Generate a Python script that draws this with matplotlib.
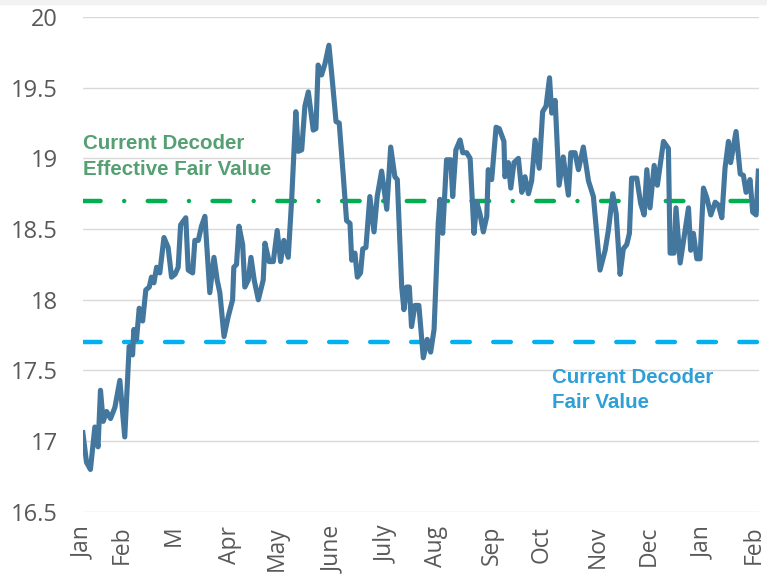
import matplotlib.pyplot as plt
import matplotlib.patches as mpatches

# trading-day position (approx) and price
days = [0, 1.5, 3.1, 4.9, 6.2, 7.2, 8.3, 9.7, 11.3, 13.1, 15.1, 17.1, 18.9, 20.3, 20.8,
        21.9, 23.0, 24.4, 25.7, 27.1, 28.0, 29.0, 30.1, 31.4, 33.1, 34.8, 36.2, 37.6,
        38.9, 39.9, 42.0, 43.0, 44.8, 45.7, 47.1, 48.4, 49.8, 51.8, 53.5, 54.8, 55.9,
        57.6, 59.3, 61.1, 61.6, 62.7, 63.7, 65.2, 66.1, 67.5, 68.6, 69.9, 71.6, 73.6,
        74.3, 76.0, 77.7, 79.3, 80.7, 82.0, 83.8, 85.2, 86.9, 87.9, 89.3, 90.6, 92.0,
        94.0, 95.1, 96.0, 97.4, 98.8, 100.4, 101.9, 103.3, 104.6, 106.2, 107.6, 109.0,
        109.7, 111.0, 112.0, 113.3, 114.2, 115.5, 117.1, 118.8, 120.1, 121.9, 124.0,
        125.6, 127.3, 128.3, 130.1, 131.0, 132.1, 133.2, 134.1, 135.5, 137.1, 138.9,
        140.5, 141.9, 143.3, 145.0, 145.7, 146.8, 148.4, 150.1, 150.9, 152.2, 153.9,
        155.0, 156.6, 158.0, 159.6, 160.7, 162.0, 163.4, 164.8, 165.4, 166.8, 168.6,
        169.9, 171.8, 172.2, 173.6, 174.6, 175.9, 177.7, 179.1, 180.4, 181.8, 183.1,
        184.5, 186.2, 187.6, 189.0, 190.4, 191.3, 192.7, 194.3, 196.0, 198.1, 199.1,
        200.8, 202.2, 204.2, 206.3, 208.3, 211.0, 213.1, 214.4, 216.2, 217.6, 219.2,
        220.5, 221.9, 223.0, 223.9, 226.0, 227.6, 229.0, 230.1, 231.4, 233.1, 234.4,
        236.9, 238.9, 239.6, 241.2, 242.0, 243.7, 245.7, 247.1, 248.0, 249.1, 250.5,
        251.8, 253.2, 254.6, 256.2, 258.0, 259.3, 260.7, 262.0, 263.4, 264.3, 266.5,
        268.2, 269.5, 270.6, 272.2, 273.3, 274.7, 275.6]
price = [17.06, 16.85, 16.80, 17.10, 16.96, 17.36, 17.14, 17.21, 17.16, 17.24, 17.43,
         17.03, 17.67, 17.61, 17.79, 17.72, 17.94, 17.85, 18.07, 18.09, 18.16, 18.12,
         18.23, 18.19, 18.44, 18.37, 18.16, 18.18, 18.23, 18.53, 18.58, 18.21, 18.19,
         18.42, 18.42, 18.52, 18.59, 18.05, 18.30, 18.14, 18.05, 17.74, 17.88, 18.00,
         18.23, 18.25, 18.52, 18.39, 18.09, 18.14, 18.30, 18.14, 18.00, 18.14, 18.40,
         18.27, 18.27, 18.49, 18.27, 18.42, 18.30, 18.71, 19.33, 19.05, 19.06, 19.37,
         19.47, 19.20, 19.21, 19.66, 19.59, 19.67, 19.80, 19.53, 19.26, 19.25, 18.89,
         18.56, 18.54, 18.28, 18.33, 18.16, 18.19, 18.36, 18.37, 18.73, 18.48, 18.73,
         18.91, 18.64, 19.08, 18.87, 18.85, 18.09, 17.93, 18.09, 18.09, 17.81, 17.96,
         17.96, 17.59, 17.72, 17.63, 17.79, 18.54, 18.71, 18.47, 18.99, 18.99, 18.73,
         19.06, 19.13, 19.04, 19.04, 19.00, 18.47, 18.69, 18.61, 18.48, 18.59, 18.92,
         18.85, 19.22, 19.21, 19.12, 18.87, 18.97, 18.79, 18.97, 19.00, 18.76, 18.87,
         18.75, 18.84, 19.13, 18.93, 19.33, 19.37, 19.57, 19.32, 19.41, 18.81, 19.01,
         18.74, 19.04, 19.04, 18.92, 19.08, 18.84, 18.73, 18.21, 18.35, 18.49, 18.75,
         18.61, 18.18, 18.36, 18.39, 18.47, 18.86, 18.86, 18.68, 18.60, 18.92, 18.65,
         18.95, 18.81, 19.12, 19.07, 18.33, 18.33, 18.65, 18.26, 18.49, 18.65, 18.35,
         18.47, 18.29, 18.29, 18.79, 18.72, 18.60, 18.69, 18.67, 18.58, 18.93, 19.12,
         18.97, 19.19, 18.89, 18.88, 18.76, 18.85, 18.62, 18.60, 18.91]

month_pos = [0, 16, 37, 60, 79, 102, 124, 144, 167, 187, 210, 231, 253, 273.8]
month_labels = ["Jan", "Feb", "M", "Apr", "May", "June", "July", "Aug", "Sep",
                "Oct", "Nov", "Dec", "Jan", "Feb"]

effective_fv = 18.7
fair_value = 17.7

fig = plt.figure(figsize=(7.67, 5.85), dpi=100)
fig.patches.append(mpatches.Rectangle((0, 0.994), 1, 0.006, transform=fig.transFigure,
                                      color="#f2f2f2", zorder=0))
ax = fig.add_axes([0.108, 0.125, 0.882, 0.846])

ax.plot(days, price, color="#44779E", lw=3.7, solid_joinstyle="round", zorder=3)
ax.axhline(effective_fv, color="#00B050", lw=3.2, dashes=(3.96, 5.3, 0.01, 5.3),
           dash_capstyle="round", zorder=2)
ax.axhline(fair_value, color="#00B0F0", lw=3.2, dashes=(3.96, 5.27),
           dash_capstyle="round", zorder=2)

# annotations, one line at a time
note_kw = dict(fontsize=14.8, fontweight="bold", family="Liberation Sans", va="baseline")
ax.text(0, 19.066, "Current Decoder", color="#55A072", **note_kw)
ax.text(0, 18.883, "Effective Fair Value", color="#55A072", **note_kw)
ax.text(191.4, 17.412, "Current Decoder", color="#2F9FD8", **note_kw)
ax.text(191.4, 17.235, "Fair Value", color="#2F9FD8", **note_kw)

ax.set_xlim(0, 276)
ax.set_ylim(16.5, 20)
ax.set_yticks([16.5, 17, 17.5, 18, 18.5, 19, 19.5, 20])
ax.set_yticklabels(["16.5", "17", "17.5", "18", "18.5", "19", "19.5", "20"])
ax.set_xticks(month_pos)
ax.set_xticklabels(month_labels, rotation=90)
ax.tick_params(axis="both", length=0, labelcolor="#595959")
ax.tick_params(axis="y", pad=18, labelsize=17)
ax.tick_params(axis="x", pad=10, labelsize=16.5)
for lab in ax.get_xticklabels() + ax.get_yticklabels():
    lab.set_family("Open Sans")
ax.grid(axis="y", color="#D9D9D9", lw=1)
ax.set_axisbelow(True)
for s in ax.spines.values():
    s.set_visible(False)

fig.savefig("out.png", dpi=100)
